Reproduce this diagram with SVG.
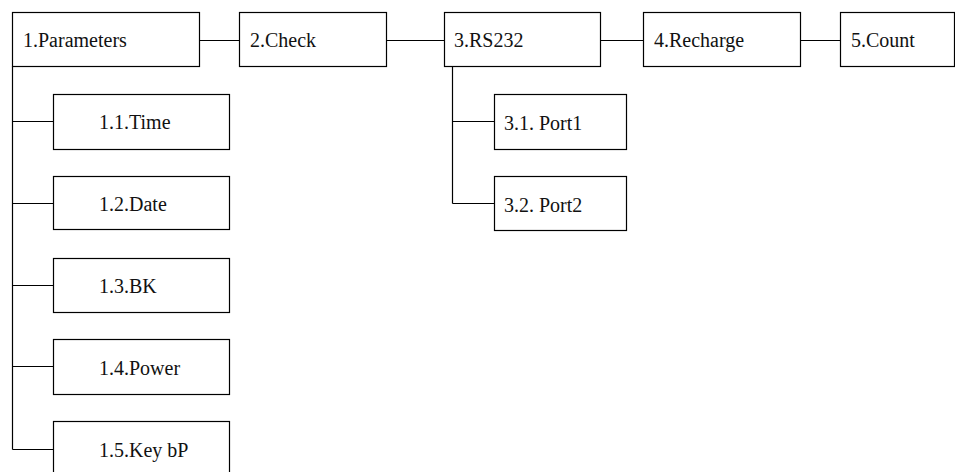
<svg xmlns="http://www.w3.org/2000/svg" width="955" height="472" viewBox="0 0 955 472">
<style>
rect{fill:#fff;stroke:#000;stroke-width:1.2}
.c line,.c path{stroke:#000;stroke-width:1.2;fill:none}
text{font-size:20px;fill:#111}
</style>
<rect x="0" y="0" width="955" height="472" style="stroke:none"/>
<g class="c" id="connectors">
<line x1="199.5" y1="40.5" x2="239.5" y2="40.5"/>
<line x1="386.5" y1="40.5" x2="444.5" y2="40.5"/>
<line x1="600.5" y1="40.5" x2="643.5" y2="40.5"/>
<line x1="800.5" y1="40.5" x2="840.5" y2="40.5"/>
<path d="M12.5 66.5 V449.5"/>
<line x1="12.5" y1="121.5" x2="53.5" y2="121.5"/>
<line x1="12.5" y1="203.5" x2="53.5" y2="203.5"/>
<line x1="12.5" y1="285.5" x2="53.5" y2="285.5"/>
<line x1="12.5" y1="366.5" x2="53.5" y2="366.5"/>
<line x1="12.5" y1="449.5" x2="53.5" y2="449.5"/>
<path d="M452.5 66.5 V203.5"/>
<line x1="452.5" y1="121.5" x2="494.5" y2="121.5"/>
<line x1="452.5" y1="203.5" x2="494.5" y2="203.5"/>
</g>
<g font-family="'Liberation Serif', Tinos, 'Times New Roman', 'DejaVu Serif', serif">
<g id="n1"><rect x="12.5" y="12.5" width="187" height="54"/><text x="23" y="47">1.Parameters</text></g>
<g id="n2"><rect x="239.5" y="12.5" width="147" height="54"/><text x="250" y="47">2.Check</text></g>
<g id="n3"><rect x="444.5" y="12.5" width="156" height="54"/><text x="454" y="47">3.RS232</text></g>
<g id="n4"><rect x="643.5" y="12.5" width="157" height="54"/><text x="654" y="47">4.Recharge</text></g>
<g id="n5"><rect x="840.5" y="12.5" width="114" height="54"/><text x="851" y="47">5.Count</text></g>
<g id="n11"><rect x="53.5" y="94.5" width="176" height="55"/><text x="99" y="129">1.1.Time</text></g>
<g id="n12"><rect x="53.5" y="176.5" width="176" height="53"/><text x="99" y="211">1.2.Date</text></g>
<g id="n13"><rect x="53.5" y="258.5" width="176" height="54"/><text x="99" y="293">1.3.BK</text></g>
<g id="n14"><rect x="53.5" y="339.5" width="176" height="55"/><text x="99" y="375">1.4.Power</text></g>
<g id="n15"><rect x="53.5" y="421.5" width="176" height="60"/><text x="99" y="457">1.5.Key bP</text></g>
<g id="n31"><rect x="494.5" y="94.5" width="132" height="55"/><text x="504" y="130">3.1. Port1</text></g>
<g id="n32"><rect x="494.5" y="176.5" width="132" height="54"/><text x="504" y="212">3.2. Port2</text></g>
</g>
</svg>
